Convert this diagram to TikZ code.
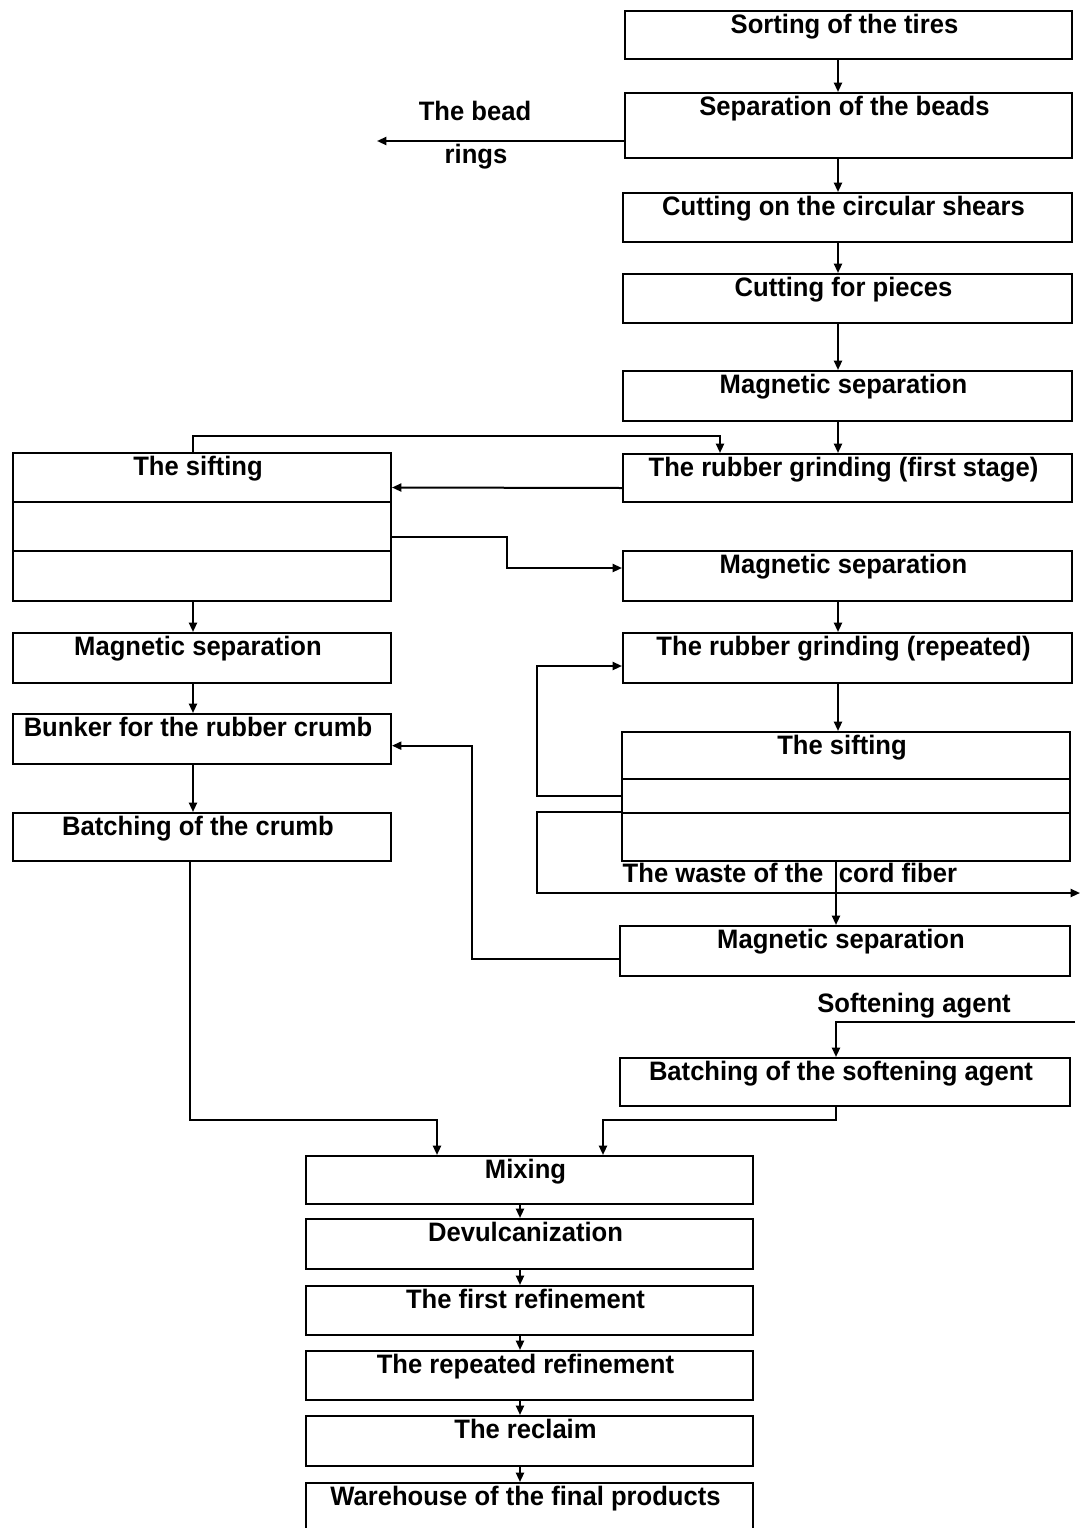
\documentclass[tikz,border=0pt]{standalone}
\usepackage{fontspec}
\setmainfont{Liberation Sans}[FakeStretch=0.96]
\usetikzlibrary{arrows.meta,calc}

% process box given by its pixel corners; text sits near the top edge,
% a touch left of the middle
\newcommand\pbox[6]{%
  \pgfmathsetmacro\bw{(#4-#2)*0.75}%
  \pgfmathsetmacro\bh{(#5-#3)*0.75}%
  \pgfmathsetmacro\bd{(#5-#3-22)*0.75}%
  \node[procbox, minimum width=\bw pt, minimum height=\bh pt,
        text depth=\bd pt, anchor=north west] (#1) at (#2,#3) {#6\hspace*{6pt}};}

\tikzset{
  procbox/.style={draw, line width=1.5pt, inner sep=0pt, text height=16.5pt,
    font=\fontsize{20}{23}\selectfont\bfseries},
  lbl/.style={inner sep=0pt, font=\fontsize{20}{23}\selectfont\bfseries},
  conn/.style={line width=1.5pt},
  arr/.style={conn, -{Triangle[length=7pt,width=6pt]}}
}

\begin{document}
\begin{tikzpicture}[x=0.75pt, y=-0.75pt]
\useasboundingbox[fill=white] (0,0) rectangle (1081,1528);

% ---- right column: preparation of the tires
\pbox{sort}{624}{10}{1071}{58}{Sorting of the tires}
\pbox{beads}{624}{92}{1071}{157}{Separation of the beads}
\pbox{shears}{622}{192}{1071}{241}{Cutting on the circular shears}
\pbox{pieces}{622}{273}{1071}{322}{Cutting for pieces}
\pbox{mag1}{622}{370}{1071}{420}{Magnetic separation}
\pbox{grind1}{622}{453}{1071}{501}{The rubber grinding (first stage)}
\pbox{mag2}{622}{550}{1071}{600}{Magnetic separation}
\pbox{grind2}{622}{632}{1071}{682}{The rubber grinding (repeated)}
\pbox{sift2a}{621}{731}{1069}{778}{The sifting}
\pbox{sift2b}{621}{778}{1069}{812}{}
\pbox{sift2c}{621}{812}{1069}{860}{}
\pbox{mag3}{619}{925}{1069}{975}{Magnetic separation}
\pbox{soft}{619}{1057}{1069}{1105}{Batching of the softening agent}

% ---- left column: crumb line
\pbox{sift1a}{12}{452}{390}{501}{The sifting}
\pbox{sift1b}{12}{501}{390}{550}{}
\pbox{sift1c}{12}{550}{390}{600}{}
\pbox{magL}{12}{632}{390}{682}{Magnetic separation}
\pbox{bunker}{12}{713}{390}{763}{Bunker for the rubber crumb}
\pbox{crumb}{12}{812}{390}{860}{Batching of the crumb}

% ---- bottom chain: devulcanization
\pbox{mix}{305}{1155}{752}{1203}{Mixing}
\pbox{devulc}{305}{1218}{752}{1268}{Devulcanization}
\pbox{ref1}{305}{1285}{752}{1334}{The first refinement}
\pbox{ref2}{305}{1350}{752}{1399}{The repeated refinement}
\pbox{reclaim}{305}{1415}{752}{1465}{The reclaim}
\pbox{store}{305}{1482}{752}{1545}{Warehouse of the final products}

% ---- free labels
\node[lbl] (beadA) at (475,111) {The bead};
\node[lbl] (beadB) at (476,157) {rings};
\node[lbl] (wasteA) at (723,873) {The waste of the};
\node[lbl] (wasteB) at (898,873) {cord fiber};
\node[lbl] (softlbl) at (914,1006) {Softening agent};

% ---- reference coordinates for connector routes
\coordinate (rx) at (838,0);
\coordinate (lx) at (193,0);
\coordinate (bx) at (520,0);
\coordinate (beadEnd) at (377,141);
\coordinate (loopTL) at (193,436);
\coordinate (loopTR) at (720,436);
\coordinate (wasteEnd) at (1080,893);
\coordinate (softIn) at (1075,1022);
\coordinate (joinL) at (437,1120);
\coordinate (joinR) at (603,1120);

% ---- right column flow
\draw[arr] (sort.south -| rx) -- (beads.north -| rx);
\draw[arr] (beads.south -| rx) -- (shears.north -| rx);
\draw[arr] (shears.south -| rx) -- (pieces.north -| rx);
\draw[arr] (pieces.south -| rx) -- (mag1.north -| rx);
\draw[arr] (mag1.south -| rx) -- (grind1.north -| rx);
\draw[arr] (beads.west |- beadEnd) -- (beadEnd);
\draw[arr] (sift1a.north -| loopTL) -- (loopTL) -- (loopTR) -- (grind1.north -| loopTR);
\draw[arr] ([yshift=-7.5pt]grind1.west) -- ([yshift=-7.5pt]sift1a.east);
\draw[arr] ([yshift=-7.5pt]sift1b.east) -- ++(115,0) |- ([yshift=6pt]mag2.west);
\draw[arr] (mag2.south -| rx) -- (grind2.north -| rx);
\draw[arr] (grind2.south -| rx) -- (sift2a.north -| rx);
\draw[arr] (sift2b.west) -- ++(-84,0) |- ([yshift=-6pt]grind2.west);
\draw[arr] (sift2c.north west) -- ++(-84,0) |- (wasteEnd);
\draw[arr] (sift2c.south -| 836,0) -- (mag3.north -| 836,0);
\draw[arr] ([yshift=-6pt]mag3.west) -- ++(-147,0) |- ([yshift=-5pt]bunker.east);

% ---- left column flow
\draw[arr] (sift1c.south -| lx) -- (magL.north -| lx);
\draw[arr] (magL.south -| lx) -- (bunker.north -| lx);
\draw[arr] (bunker.south -| lx) -- (crumb.north -| lx);

% ---- feeds into mixing
\draw[arr] (crumb.south -| 190,0) |- (joinL) -- (joinL |- mix.north);
\draw[arr] (softIn) -- (softIn -| 836,0) -- (soft.north -| 836,0);
\draw[arr] (soft.south -| 836,0) |- (joinR) -- (joinR |- mix.north);

% ---- bottom chain
\draw[arr] (mix.south -| bx) -- (devulc.north -| bx);
\draw[arr] (devulc.south -| bx) -- (ref1.north -| bx);
\draw[arr] (ref1.south -| bx) -- (ref2.north -| bx);
\draw[arr] (ref2.south -| bx) -- (reclaim.north -| bx);
\draw[arr] (reclaim.south -| bx) -- (store.north -| bx);
\end{tikzpicture}
\end{document}
